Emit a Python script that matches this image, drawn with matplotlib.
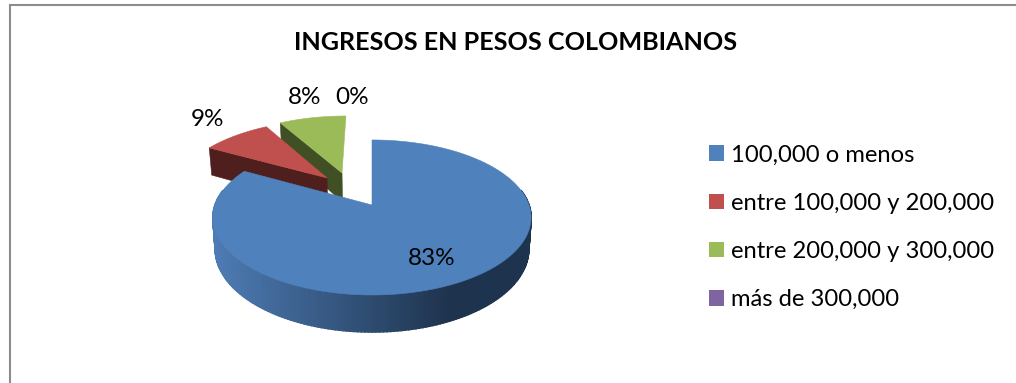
import numpy as np
import matplotlib
matplotlib.use("Agg")
import matplotlib.pyplot as plt
from matplotlib.patches import Patch
from matplotlib.colors import to_rgb

title = "INGRESOS EN PESOS COLOMBIANOS"
categories = ["100,000 o menos", "entre 100,000 y 200,000", "entre 200,000 y 300,000", "más de 300,000"]
values = [83.0, 8.6, 8.4, 0.0]
top_colors = ["#4F81BD", "#C0504D", "#9BBB59", "#8064A2"]
wall_colors = ["#2F4F75", "#4F1F1E", "#414F25", "#3F2F55"]
explode_uv = [(0.0, 0.0), (-0.304, 0.38), (-0.205, 0.455), (0.0, 0.0)]
label_xy = [(432, 258.5), (207, 120), (305, 98), (352, 98)]

X0, Y0, A, B, K = 372.0, 205.0, 157.0, 75.5, 0.161
DEPTH, BOTTOM_SCALE = 31.0, 0.985
FONT = "Lato"

fig = plt.figure(figsize=(10.16, 3.83), dpi=100)
ax = fig.add_axes([0, 0, 1, 1])
ax.set_xlim(0, 1016)
ax.set_ylim(383, 0)
ax.axis("off")

ax.plot([10, 10, 1016], [383, 5, 5], color="#8C8C8C", lw=1.5, solid_joinstyle="miter", zorder=1)


def proj(u, v, bottom=False):
    u, v = np.asarray(u, float), np.asarray(v, float)
    w = 1 + K * v
    s = BOTTOM_SCALE if bottom else 1.0
    x = X0 + s * A * u / w
    y = Y0 - B * v / w
    if bottom:
        y = y + DEPTH / w
    return x, y


def sector(a0, a1, off, n=160):
    t = np.radians(np.linspace(a0, a1, n))
    return np.sin(t) + off[0], np.cos(t) + off[1]


def draw_top(a0, a1, off, color, z):
    u, v = sector(a0, a1, off)
    u = np.r_[off[0], u]
    v = np.r_[off[1], v]
    x, y = proj(u, v)
    ax.fill(x, y, fc=color, ec=color, lw=0.4, zorder=z)


def draw_cut(a, off, color, z):
    t = np.radians(a)
    u = np.array([off[0], off[0] + np.sin(t)])
    v = np.array([off[1], off[1] + np.cos(t)])
    xt, yt = proj(u, v)
    xb, yb = proj(u, v, bottom=True)
    ax.fill(np.r_[xt, xb[::-1]], np.r_[yt, yb[::-1]], fc=color, ec=color, lw=0.4, zorder=z)


cum = np.r_[0, np.cumsum(values)] * 3.6
angles = list(zip(cum[:-1], cum[1:]))

# green slice (behind), then red slice
draw_cut(angles[2][0], explode_uv[2], wall_colors[2], 2)
draw_top(*angles[2], explode_uv[2], top_colors[2], 3)
draw_cut(angles[1][0], explode_uv[1], wall_colors[1], 4)
draw_top(*angles[1], explode_uv[1], top_colors[1], 5)

# blue slice: shaded outer wall
light = np.array(to_rgb("#4D7BB3"))
dark = np.array(to_rgb("#1E334D"))
tt = np.linspace(angles[0][0], angles[0][1], 260)
for a, b in zip(tt[:-1], tt[1:]):
    if np.cos(np.radians((a + b) / 2)) > 0.2:
        continue
    u, v = sector(a, b, explode_uv[0], n=2)
    xt, yt = proj(u, v)
    xb, yb = proj(u, v, bottom=True)
    f = np.clip((xt.mean() - 215) / (450 - 215), 0, 1)
    c = light + (dark - light) * f
    ax.fill(np.r_[xt, xb[::-1]], np.r_[yt, yb[::-1]], fc=c, ec=c, lw=1.2, zorder=6)
draw_cut(angles[0][0], explode_uv[0], "#1E334D", 6)
draw_top(*angles[0], explode_uv[0], top_colors[0], 7)

for val, (lx, ly) in zip(values, label_xy):
    ax.text(lx, ly, f"{val:.0f}%", ha="center", va="center", fontsize=17.5, family=FONT, color="black", zorder=10)

ax.text(516, 43, title, ha="center", va="center", fontsize=18.1, fontweight="bold", family=FONT, color="black")

fs = 17.1
px = 72 / 100
handles = [Patch(fc=c, ec="none") for c in top_colors]
ax.legend(handles, categories, loc="upper left", bbox_to_anchor=(709, 144.5), bbox_transform=ax.transData,
          frameon=False, prop={"family": FONT, "size": fs}, borderpad=0, borderaxespad=0,
          handlelength=15 * px / fs, handleheight=15 * px / fs, handletextpad=7 * px / fs,
          labelspacing=(51 * px - fs) / fs)

fig.savefig("out.png", dpi=100, facecolor="white")
